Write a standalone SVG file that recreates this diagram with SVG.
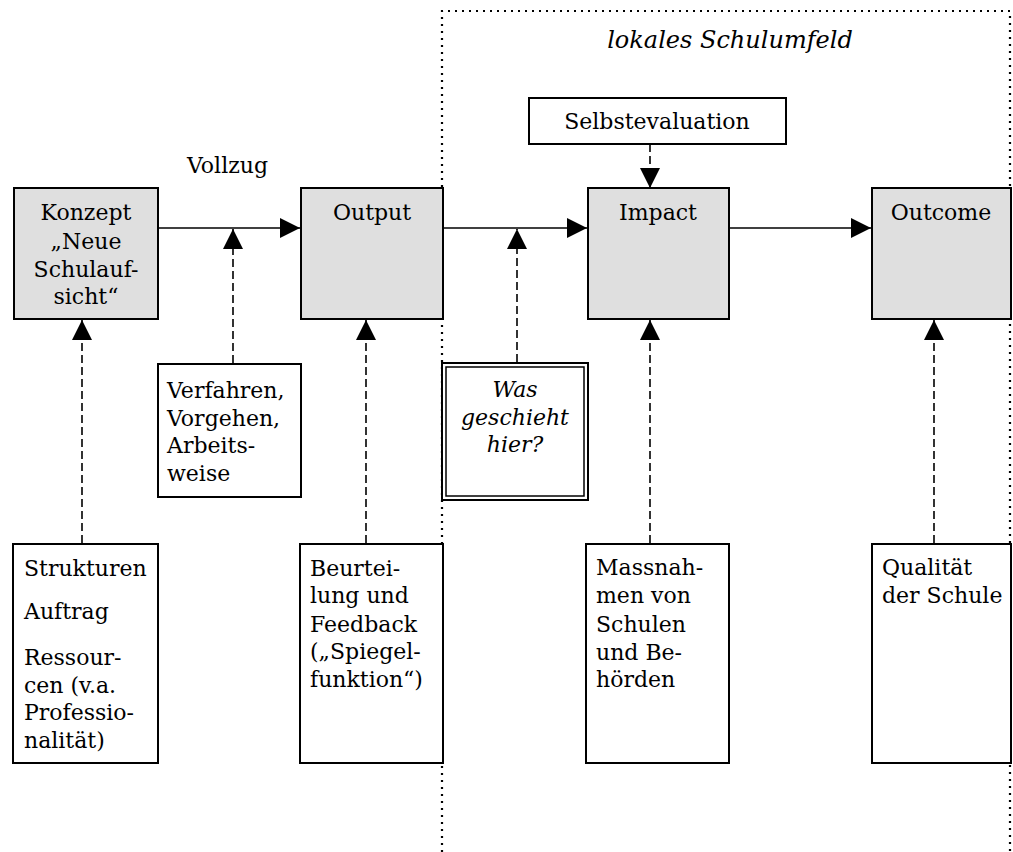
<svg xmlns="http://www.w3.org/2000/svg" width="1013" height="852" viewBox="0 0 1013 852">
<style>
  text { font-family: "DejaVu Serif", "Liberation Serif", serif; font-size: 22px; fill: #000; }
  .c { text-anchor: middle; }
  .i { font-style: italic; }
  .gray { fill: #dfdfdf; stroke: #000; stroke-width: 2; }
  .box { fill: #fff; stroke: #000; stroke-width: 2; }
  .solid { stroke: #000; stroke-width: 1.6; fill: none; }
  .dash { stroke: #000; stroke-width: 1.6; fill: none; stroke-dasharray: 8 4; }
  .dot { stroke: #000; stroke-width: 2.2; fill: none; stroke-dasharray: 2 5; }
</style>
<defs>
  <marker id="ah" markerUnits="userSpaceOnUse" markerWidth="20" markerHeight="20" refX="20" refY="10" orient="auto">
    <path d="M0,0 L20,10 L0,20 z" fill="#000"/>
  </marker>
</defs>
<rect width="1013" height="852" fill="#fff"/>

<g id="region">
  <path class="dot" d="M442,852 L442,11 L1010,11 L1010,852"/>
  <text class="i" x="730" y="48" text-anchor="middle" style="font-size:24px">lokales Schulumfeld</text>
</g>

<g id="vollzug-label">
  <text x="187" y="173">Vollzug</text>
</g>

<g id="konzept">
  <rect class="gray" x="14" y="188" width="144" height="131"/>
  <text class="c" x="86" y="220">Konzept</text>
  <text class="c" x="86" y="249">„Neue</text>
  <text class="c" x="86" y="277">Schulauf-</text>
  <text class="c" x="86" y="304">sicht“</text>
</g>

<g id="output">
  <rect class="gray" x="301" y="188" width="142" height="131"/>
  <text class="c" x="372" y="220">Output</text>
</g>

<g id="impact">
  <rect class="gray" x="588" y="188" width="141" height="131"/>
  <text class="c" x="658" y="220">Impact</text>
</g>

<g id="outcome">
  <rect class="gray" x="872" y="188" width="139" height="131"/>
  <text class="c" x="941" y="220">Outcome</text>
</g>

<g id="selbstevaluation">
  <rect class="box" x="529" y="98" width="257" height="46"/>
  <text class="c" x="657" y="129">Selbstevaluation</text>
</g>

<g id="verfahren">
  <rect class="box" x="158" y="364" width="143" height="133"/>
  <text x="167" y="398">Verfahren,</text>
  <text x="167" y="426">Vorgehen,</text>
  <text x="167" y="453">Arbeits-</text>
  <text x="167" y="481">weise</text>
</g>

<g id="was-geschieht">
  <rect class="box" x="442" y="363" width="146" height="137"/>
  <rect fill="none" stroke="#000" stroke-width="1.5" x="446" y="367" width="138" height="129"/>
  <text class="c i" x="515" y="397">Was</text>
  <text class="c i" x="515" y="425">geschieht</text>
  <text class="c i" x="515" y="452">hier?</text>
</g>

<g id="strukturen">
  <rect class="box" x="13" y="544" width="145" height="219"/>
  <text x="24" y="576">Strukturen</text>
  <text x="24" y="619">Auftrag</text>
  <text x="24" y="665">Ressour-</text>
  <text x="24" y="693">cen (v.a.</text>
  <text x="24" y="720">Professio-</text>
  <text x="24" y="748">nalität)</text>
</g>

<g id="beurteilung">
  <rect class="box" x="300" y="544" width="143" height="219"/>
  <text x="310" y="576">Beurtei-</text>
  <text x="310" y="603">lung und</text>
  <text x="310" y="632">Feedback</text>
  <text x="310" y="659">(„Spiegel-</text>
  <text x="310" y="687">funktion“)</text>
</g>

<g id="massnahmen">
  <rect class="box" x="586" y="544" width="143" height="219"/>
  <text x="596" y="575">Massnah-</text>
  <text x="596" y="603">men von</text>
  <text x="596" y="632">Schulen</text>
  <text x="596" y="660">und Be-</text>
  <text x="596" y="687">hörden</text>
</g>

<g id="qualitaet">
  <rect class="box" x="872" y="544" width="139" height="219"/>
  <text x="882" y="575">Qualität</text>
  <text x="882" y="603">der Schule</text>
</g>

<g id="connectors">
  <path class="solid" d="M158,228 L300,228" marker-end="url(#ah)"/>
  <path class="solid" d="M443,228 L587,228" marker-end="url(#ah)"/>
  <path class="solid" d="M729,228 L871,228" marker-end="url(#ah)"/>
  <path class="dash" d="M650,144 L650,188" marker-end="url(#ah)"/>
  <path class="dash" d="M82,543 L82,320" marker-end="url(#ah)"/>
  <path class="dash" d="M233,363 L233,229" marker-end="url(#ah)"/>
  <path class="dash" d="M366,543 L366,320" marker-end="url(#ah)"/>
  <path class="dash" d="M517,362 L517,229" marker-end="url(#ah)"/>
  <path class="dash" d="M650,543 L650,320" marker-end="url(#ah)"/>
  <path class="dash" d="M934,543 L934,320" marker-end="url(#ah)"/>
</g>
</svg>
